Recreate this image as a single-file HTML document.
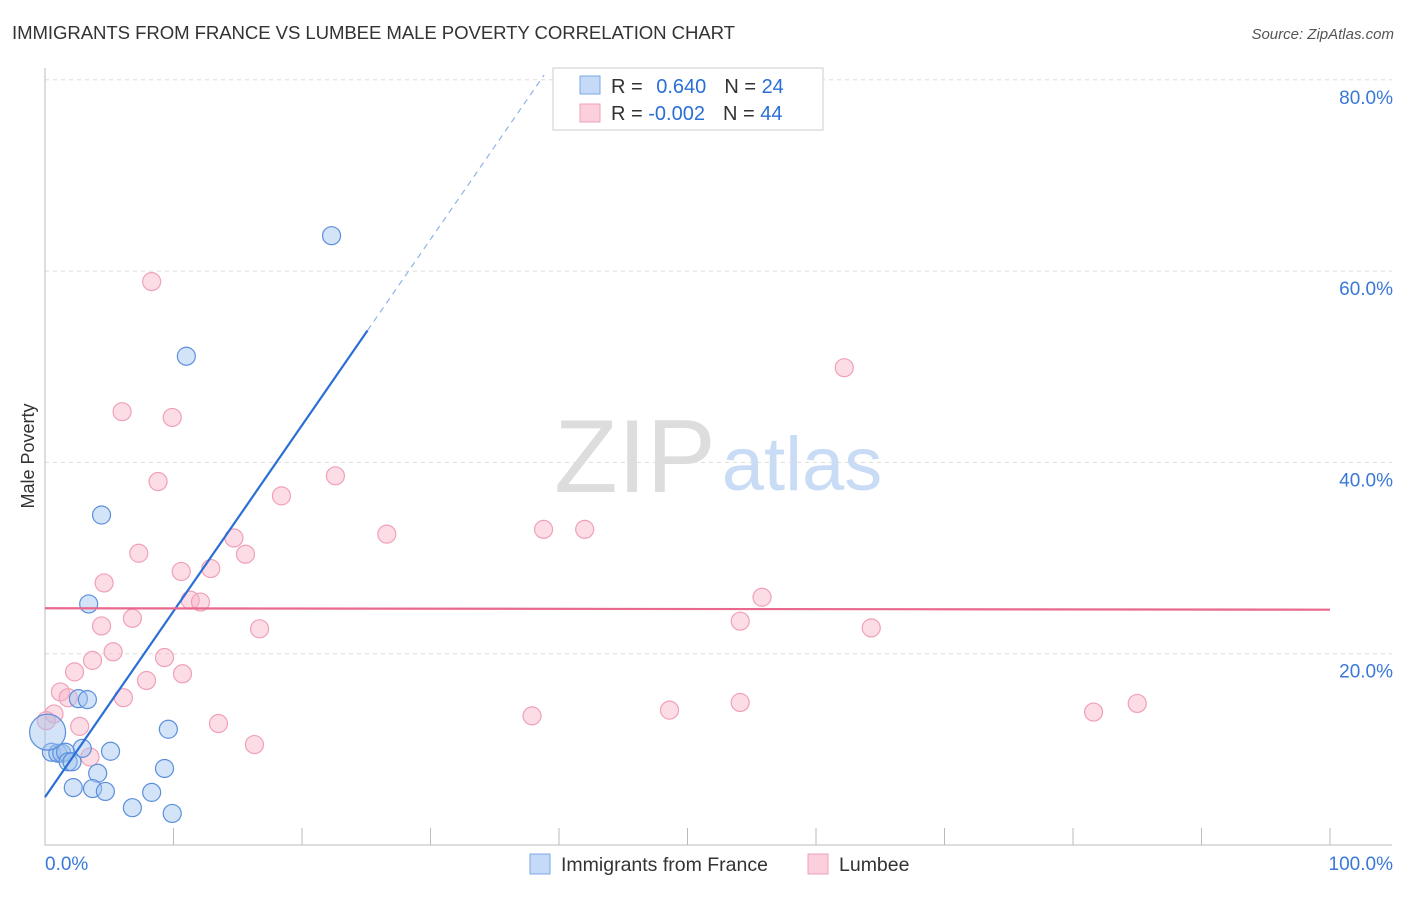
<!DOCTYPE html>
<html><head><meta charset="utf-8"><style>
body{margin:0;background:#fff;font-family:"Liberation Sans",sans-serif;}
svg text{font-family:"Liberation Sans",sans-serif;}
</style></head><body>
<svg id="chart" width="1406" height="892" viewBox="0 0 1406 892">
<text x="12" y="39" font-size="18.6" fill="#333" textLength="723">IMMIGRANTS FROM FRANCE VS LUMBEE MALE POVERTY CORRELATION CHART</text>
<text x="1394" y="39" font-size="15" fill="#555" font-style="italic" text-anchor="end">Source: ZipAtlas.com</text>
<text x="34" y="456" font-size="18" fill="#333" text-anchor="middle" transform="rotate(-90 34 456)">Male Poverty</text>
<g><text x="635" y="492" font-size="104" fill="#ddd" font-family="Liberation Serif" text-anchor="middle">ZIP</text><text x="802" y="490" font-size="76" fill="#c9dcf5" text-anchor="middle">atlas</text></g>
<g id="grid"></g><g id="marks"></g>
<g>
<rect x="553" y="68" width="270" height="62" fill="#fff" stroke="#ccc"/>
<rect x="580" y="76" width="20" height="18" fill="#c5daf7" stroke="#7aa7e6"/>
<rect x="580" y="104" width="20" height="18" fill="#fbd0dc" stroke="#f0a0b8"/>
<text x="611" y="93" font-size="20" fill="#333">R = <tspan fill="#2a6fd6" dx="8">0.640</tspan><tspan fill="#333" dx="18">N = </tspan><tspan fill="#2a6fd6">24</tspan></text>
<text x="611" y="120" font-size="20" fill="#333">R = <tspan fill="#2a6fd6">-0.002</tspan><tspan fill="#333" dx="18">N = </tspan><tspan fill="#2a6fd6">44</tspan></text>
</g>
<g>
<rect x="530" y="854" width="20" height="20" fill="#c5daf7" stroke="#7aa7e6"/>
<text x="561" y="871" font-size="19.5" fill="#333">Immigrants from France</text>
<rect x="808" y="854" width="20" height="20" fill="#fbd0dc" stroke="#f0a0b8"/>
<text x="839" y="871" font-size="19.5" fill="#333">Lumbee</text>
</g>
</svg>
<script>
const yTicks=[20,40,60,80];
const yTickLabels=["20.0%","40.0%","60.0%","80.0%"];
const xEndLabels=["0.0%","100.0%"];
const blueX=[22.3,11.0,4.4,3.4,2.6,3.3,9.6,5.1,2.9,0.5,1.0,1.3,1.6,1.8,2.1,4.1,9.3,2.2,3.7,4.7,8.3,6.8,9.9,0.2];
const blueY=[63.7,51.1,34.5,25.2,15.3,15.2,12.1,9.8,10.1,9.7,9.6,9.6,9.7,8.7,8.7,7.5,8.0,6.0,5.9,5.6,5.5,3.9,3.3,11.8];
const blueBig=[0,0,0,0,0,0,0,0,0,0,0,0,0,0,0,0,0,0,0,0,0,0,0,1];
const pinkX=[8.3,6.0,9.9,62.2,8.8,22.6,18.4,26.6,38.8,42.0,14.7,7.3,15.6,4.6,10.6,12.9,55.8,11.3,12.1,6.8,4.4,54.1,16.7,64.3,5.3,9.3,3.7,2.3,10.7,7.9,1.2,1.8,6.1,2.7,0.7,0.1,13.5,37.9,48.6,54.1,81.6,85.0,16.3,3.5];
const pinkY=[58.9,45.3,44.7,49.9,38.0,38.6,36.5,32.5,33.0,33.0,32.1,30.5,30.4,27.4,28.6,28.9,25.9,25.6,25.4,23.7,22.9,23.4,22.6,22.7,20.2,19.6,19.3,18.1,17.9,17.2,16.0,15.4,15.4,12.4,13.7,13.0,12.7,13.5,14.1,14.9,13.9,14.8,10.5,9.2];
const blueFit=[5.0,1.944];
const pinkFit=[24.75,-0.0015];
const X=v=>45+v*12.85, Y=v=>845-v*9.565;
const NS="http://www.w3.org/2000/svg";
function mk(t,a,p){const e=document.createElementNS(NS,t);for(const k in a)e.setAttribute(k,a[k]);p.appendChild(e);return e;}
const g=document.getElementById('grid'), m=document.getElementById('marks');
yTicks.forEach((t,i)=>{
 const l=mk('line',{x1:45,x2:1392,y1:Y(t),y2:Y(t),stroke:'#ddd','stroke-dasharray':'4,4'},g);
 
 
 const tx=mk('text',{x:1393,y:Y(t)+24,'font-size':19,fill:'#3a78d8','text-anchor':'end'},g);tx.textContent=yTickLabels[i];
 
 
});
const ax=mk('path',{d:'M45 68 V845 H1392',stroke:'#bbb',fill:'none'},g);


for(let i=0;i<=10;i++){const t=mk('line',{x1:X(i*10),x2:X(i*10),y1:828,y2:845,stroke:'#bbb'},g);
 
 }
[[0,'start',45],[100,'end',1393]].forEach((d,i)=>{const t=mk('text',{x:d[2],y:870,'font-size':19,fill:'#3a78d8','text-anchor':d[1]},g);t.textContent=xEndLabels[i];
 
 });
pinkX.forEach((x,i)=>{const c=mk('circle',{cx:X(x),cy:Y(pinkY[i]),r:9,fill:'rgba(248,180,200,0.45)',stroke:'#f0a0b8','stroke-width':1.2},m);
 
 });
blueX.forEach((x,i)=>{const c=mk('circle',{cx:X(x),cy:Y(blueY[i]),r:blueBig[i]?18:9,fill:'rgba(160,195,240,0.45)',stroke:'#5b8fdc','stroke-width':1.2},m);
 
 });
const bx2=25.1, bxTop=(80.5-blueFit[0])/blueFit[1];
const bl=mk('line',{x1:X(0),y1:Y(blueFit[0]),x2:X(bx2),y2:Y(blueFit[0]+blueFit[1]*bx2),stroke:'#2a6fd6','stroke-width':2.2},m);


const bd=mk('line',{x1:X(bx2),y1:Y(blueFit[0]+blueFit[1]*bx2),x2:X(bxTop),y2:Y(80.5),stroke:'#8fb3e8','stroke-width':1.2,'stroke-dasharray':'6,5'},m);


const pl=mk('line',{x1:X(0),y1:Y(pinkFit[0]),x2:X(100),y2:Y(pinkFit[0]+pinkFit[1]*100),stroke:'#e8688e','stroke-width':2.2},m);


</script>
</body></html>
